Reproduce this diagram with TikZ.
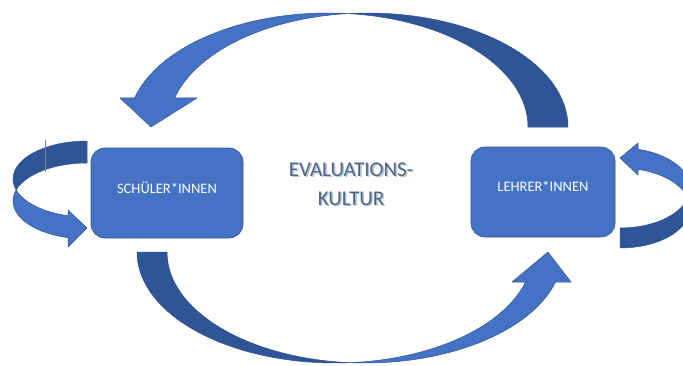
\documentclass[tikz,border=0pt]{standalone}
\usepackage{fontspec}
\setmainfont{Carlito}
\usetikzlibrary{positioning}
\definecolor{front}{HTML}{4472C4}
\definecolor{back}{HTML}{2F5597}
\definecolor{edge}{HTML}{2F528F}
\definecolor{titlegrey}{HTML}{56657A}
\definecolor{titleglow}{HTML}{A9C4E8}
\tikzset{
  box/.style={draw=edge, fill=front, rounded corners=14pt, line width=0.6pt, inner sep=0pt},
  boxtext/.style={text=white, font=\fontsize{14.5}{17}\selectfont},
  title/.style={font=\fontsize{21}{29}\selectfont, align=center},
  fronthalf/.style={fill=front, draw=edge, line width=0.5pt, line join=round},
  backhalf/.style={fill=back, draw=edge, line width=0.5pt, line join=round},
}

\begin{document}
\begin{tikzpicture}[x=1pt,y=1pt]
    \useasboundingbox (0,0) rectangle (683,365);
    \clip (0,0) rectangle (683,365);
    % top arrow, lehrer -> schueler
    \draw[backhalf] (348,351.4) arc[start angle=95.74, end angle=0, x radius=200, y radius=114]
        -- (528,238) arc[start angle=0, end angle=84.26, x radius=200, y radius=114] -- cycle;
    \draw[fronthalf] (174.6,267) -- (197,267) -- (151,238) -- (120,267) -- (134.6,267)
        arc[start angle=165.26, end angle=84.26, x radius=200, y radius=114]
        arc[start angle=95.74, end angle=165.26, x radius=200, y radius=114] -- cycle;
    % bottom arrow, schueler -> lehrer
    \draw[backhalf] (137,113) arc[start angle=180, end angle=274.35, x radius=198, y radius=111]
        arc[start angle=265.65, end angle=180, x radius=198, y radius=111] -- cycle;
    \draw[fronthalf] (525.6,83) -- (512,83) -- (548,113) -- (571,83) -- (555.6,83)
        arc[start angle=344.32, end angle=265.65, x radius=198, y radius=111]
        arc[start angle=274.35, end angle=344.32, x radius=198, y radius=111] -- cycle;
    % loop on the left
    \draw[backhalf] (87,224) arc[start angle=90, end angle=196.83, x radius=74, y radius=38]
        arc[start angle=163.17, end angle=90, x radius=74, y radius=38] -- cycle;
    \draw[fronthalf] (16.2,175) arc[start angle=196.83, end angle=255.12, x radius=74, y radius=38]
        -- (68,155) -- (87,137) -- (68,118) -- (68,127.3)
        arc[start angle=255.12, end angle=163.17, x radius=74, y radius=38] -- cycle;
    \draw[gray, line width=0.8pt] (45,225) -- (45,193);
    % loop on the right
    \draw[backhalf] (687.8,167) arc[start angle=-14.48, end angle=-90, x radius=70, y radius=40]
        -- (620,117) arc[start angle=-90, end angle=14.48, x radius=70, y radius=40] -- cycle;
    \draw[fronthalf] (638,195.7) -- (638,190) -- (620,207) -- (638,222) -- (638,215.7)
        arc[start angle=75.1, end angle=-14.48, x radius=70, y radius=40]
        arc[start angle=14.48, end angle=75.1, x radius=70, y radius=40] -- cycle;
    % the two groups
    \node[box, minimum width=152pt, minimum height=90pt] (schueler) at (167,172) {};
    \node[boxtext] (schuelertext) at ([yshift=5pt]schueler.center) {SCHÜLER*INNEN};
    \node[box, minimum width=144pt, minimum height=90pt] (lehrer) at (543,173) {};
    \node[boxtext] (lehrertext) at ([yshift=6pt]lehrer.center) {LEHRER*INNEN};
    % title in the middle
    \node[title, text=titleglow] (kulturglow) at (352.6,179.6) {EVALUATIONS-\\KULTUR};
    \node[title, text=titlegrey] (kultur) at (351,181) {EVALUATIONS-\\KULTUR};
\end{tikzpicture}
\end{document}
